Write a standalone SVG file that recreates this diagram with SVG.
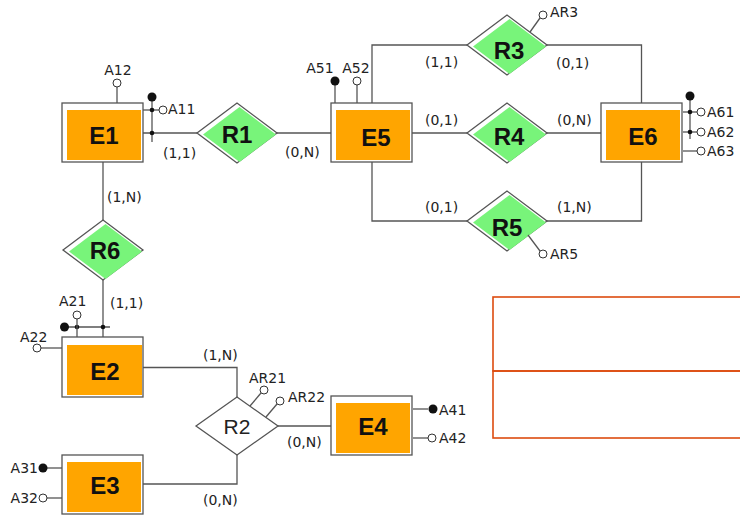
<svg xmlns="http://www.w3.org/2000/svg" xmlns:xlink="http://www.w3.org/1999/xlink" width="740" height="516" viewBox="0 0 740 516">
<style>
.ln{stroke:#555;stroke-width:1.3;fill:none}
.ob{fill:#fff;stroke:#555;stroke-width:1.3}
.or{fill:#FFA500}
.gr{fill:#78F47A}
.dm{fill:#fff;stroke:#555;stroke-width:1.3}
.hol{fill:#fff;stroke:#333;stroke-width:1}
.blk{fill:#111}
.jn{fill:#111}
.big{font-family:"Liberation Sans",Arial,sans-serif;font-weight:bold;font-size:24px;fill:#111;text-anchor:middle}
.r2{font-family:"Liberation Sans",Arial,sans-serif;font-size:21px;fill:#222;text-anchor:middle}
.sm{font-family:"DejaVu Sans",sans-serif;font-size:14px;fill:#222}
.mid{text-anchor:middle}
.end{text-anchor:end}
.frame{fill:none;stroke:#DD4B0F;stroke-width:1.6}
</style>
<defs>
<g id="ent"><rect class="ob" x="0" y="0" width="81" height="59"/><rect class="or" x="5" y="7" width="74" height="50"/></g>
<g id="rel"><polygon class="dm" points="-40,0 0,-30 40,0 0,30"/><polygon class="gr" points="-34,1.5 2.5,-26 39,1.5 2.5,29"/></g>
</defs>
<rect width="740" height="516" fill="#fff"/>
<g id="connectors">
<line class="ln" x1="143" y1="133" x2="197" y2="133"/>
<line class="ln" x1="277" y1="133" x2="331" y2="133"/>
<polyline class="ln" points="372,103 372,45 467,45"/>
<polyline class="ln" points="547,45 641.5,45 641.5,103"/>
<line class="ln" x1="412" y1="133" x2="467" y2="133"/>
<line class="ln" x1="547" y1="133" x2="601" y2="133"/>
<polyline class="ln" points="372,162 372,221 467,221"/>
<polyline class="ln" points="547,221 641.5,221 641.5,162"/>
<line class="ln" x1="103" y1="162" x2="103" y2="221"/>
<line class="ln" x1="103" y1="279" x2="103" y2="337"/>
<polyline class="ln" points="143,367.5 237,367.5 237,397"/>
<line class="ln" x1="278" y1="426" x2="331" y2="426"/>
<polyline class="ln" points="237,455 237,484 143,484"/>
<text class="sm" x="163" y="158">(1,1)</text>
<text class="sm" x="285" y="157">(0,N)</text>
<text class="sm" x="425" y="67">(1,1)</text>
<text class="sm" x="556" y="68">(0,1)</text>
<text class="sm" x="425" y="125">(0,1)</text>
<text class="sm" x="557" y="125">(0,N)</text>
<text class="sm" x="425" y="212">(0,1)</text>
<text class="sm" x="557" y="212">(1,N)</text>
<text class="sm" x="107" y="202">(1,N)</text>
<text class="sm" x="110" y="308">(1,1)</text>
<text class="sm" x="203" y="360">(1,N)</text>
<text class="sm" x="287" y="447">(0,N)</text>
<text class="sm" x="203" y="505">(0,N)</text>
</g>
<g id="E1">
<use xlink:href="#ent" x="62" y="103"/>
<text class="big" x="104" y="143.5">E1</text>
<line class="ln" x1="117" y1="103" x2="117" y2="87"/>
<circle class="hol" cx="117" cy="83" r="4"/>
<text class="sm mid" x="118" y="75">A12</text>
<line class="ln" x1="143" y1="110" x2="159" y2="110"/>
<circle class="hol" cx="163" cy="110" r="4"/>
<text class="sm" x="168" y="114">A11</text>
<line class="ln" x1="152" y1="97" x2="152" y2="142"/>
<circle class="blk" cx="152" cy="97" r="4.5"/>
<circle class="jn" cx="152" cy="110" r="2.3"/>
<circle class="jn" cx="152" cy="133" r="2.3"/>
</g>
<g id="E2">
<rect class="ob" x="62" y="337" width="81" height="60"/><rect class="or" x="67" y="345" width="75" height="50"/>
<text class="big" x="105" y="380">E2</text>
<line class="ln" x1="62" y1="348" x2="41" y2="348"/>
<circle class="hol" cx="37" cy="348" r="4"/>
<text class="sm" x="20" y="341.5">A22</text>
<line class="ln" x1="64" y1="327" x2="110" y2="327"/>
<circle class="blk" cx="64.5" cy="327" r="4.5"/>
<circle class="jn" cx="77" cy="327" r="2.3"/>
<circle class="jn" cx="103" cy="327" r="2.3"/>
<line class="ln" x1="77" y1="337" x2="77" y2="319"/>
<circle class="hol" cx="77" cy="315" r="4"/>
<text class="sm" x="59" y="306">A21</text>
</g>
<g id="E3">
<use xlink:href="#ent" x="62" y="455"/>
<text class="big" x="105" y="494">E3</text>
<line class="ln" x1="62" y1="468" x2="47" y2="468"/>
<circle class="blk" cx="43" cy="468" r="4.5"/>
<text class="sm end" x="38" y="473">A31</text>
<line class="ln" x1="62" y1="498" x2="47" y2="498"/>
<circle class="hol" cx="43" cy="498" r="4"/>
<text class="sm end" x="38" y="503">A32</text>
</g>
<g id="E4">
<use xlink:href="#ent" x="331" y="396"/>
<text class="big" x="373" y="435">E4</text>
<line class="ln" x1="413" y1="409" x2="428" y2="409"/>
<circle class="blk" cx="433" cy="409" r="4.5"/>
<text class="sm" x="439" y="415">A41</text>
<line class="ln" x1="413" y1="438" x2="428" y2="438"/>
<circle class="hol" cx="432" cy="438" r="4"/>
<text class="sm" x="439" y="443">A42</text>
</g>
<g id="E5">
<use xlink:href="#ent" x="331" y="103"/>
<text class="big" x="376" y="146">E5</text>
<line class="ln" x1="335" y1="103" x2="335" y2="85"/>
<circle class="blk" cx="335" cy="81" r="4.5"/>
<text class="sm mid" x="320" y="72.5">A51</text>
<line class="ln" x1="357" y1="103" x2="357" y2="85"/>
<circle class="hol" cx="357" cy="81" r="4"/>
<text class="sm mid" x="356" y="72.5">A52</text>
</g>
<g id="E6">
<use xlink:href="#ent" x="601" y="103"/>
<text class="big" x="643" y="145">E6</text>
<line class="ln" x1="690" y1="96" x2="690" y2="139"/>
<circle class="blk" cx="690" cy="96" r="4.5"/>
<line class="ln" x1="683" y1="112" x2="697" y2="112"/>
<circle class="jn" cx="690" cy="112" r="2.3"/>
<circle class="hol" cx="701" cy="112" r="4"/>
<text class="sm" x="707" y="117">A61</text>
<line class="ln" x1="683" y1="132" x2="697" y2="132"/>
<circle class="jn" cx="690" cy="132" r="2.3"/>
<circle class="hol" cx="701" cy="132" r="4"/>
<text class="sm" x="707" y="137">A62</text>
<line class="ln" x1="683" y1="151" x2="697" y2="151"/>
<circle class="hol" cx="701" cy="151" r="4"/>
<text class="sm" x="707" y="156">A63</text>
</g>
<g id="R1">
<use xlink:href="#rel" x="237" y="133"/>
<text class="big" x="237" y="143">R1</text>
</g>
<g id="R3">
<use xlink:href="#rel" x="507" y="45"/>
<text class="big" x="509" y="59">R3</text>
<line class="ln" x1="530" y1="32" x2="540" y2="18"/>
<circle class="hol" cx="543" cy="15" r="4"/>
<text class="sm" x="550" y="17">AR3</text>
</g>
<g id="R4">
<use xlink:href="#rel" x="507" y="133"/>
<text class="big" x="509" y="145">R4</text>
</g>
<g id="R5">
<use xlink:href="#rel" x="507" y="221"/>
<text class="big" x="507" y="236">R5</text>
<line class="ln" x1="528" y1="235" x2="540" y2="251"/>
<circle class="hol" cx="543" cy="254" r="4"/>
<text class="sm" x="550" y="259">AR5</text>
</g>
<g id="R6">
<use xlink:href="#rel" x="103" y="250"/>
<text class="big" x="105" y="259">R6</text>
</g>
<g id="R2">
<polygon class="dm" points="196,426 237,397 278,426 237,455"/>
<text class="r2" x="237" y="434">R2</text>
<line class="ln" x1="250" y1="406" x2="261" y2="393"/>
<circle class="hol" cx="264" cy="390" r="4"/>
<text class="sm" x="249" y="383">AR21</text>
<line class="ln" x1="266" y1="417" x2="277" y2="404"/>
<circle class="hol" cx="280" cy="401" r="4"/>
<text class="sm" x="288" y="402">AR22</text>
</g>
<g id="frames">
<rect class="frame" x="493" y="297" width="260" height="74"/>
<rect class="frame" x="493" y="371" width="260" height="67"/>
</g>
</svg>
